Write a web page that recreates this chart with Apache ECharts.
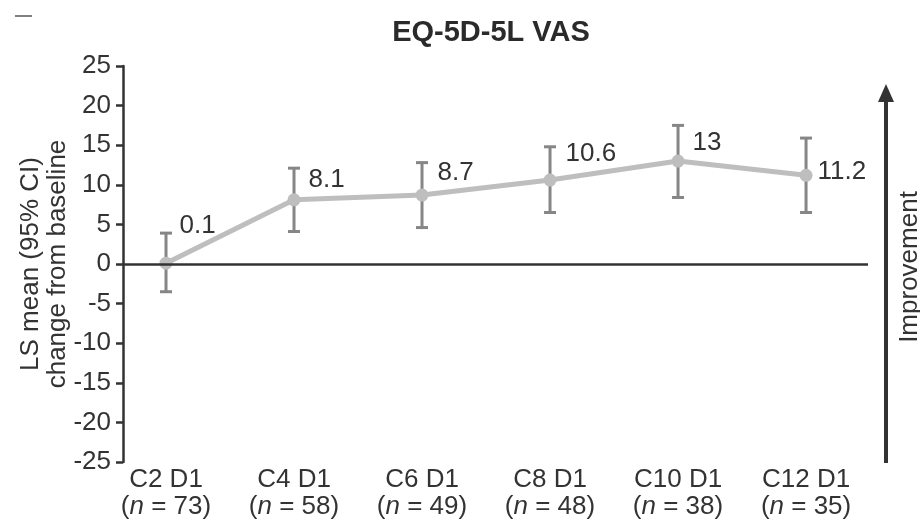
<!DOCTYPE html>
<html><head><meta charset="utf-8">
<script src="https://cdn.jsdelivr.net/npm/echarts@6/dist/echarts.min.js"></script>
<style>html,body{margin:0;padding:0;background:#fff}#c{width:920px;height:528px}</style>
</head><body><div id="c"></div>
<script>
const categories = ['C2 D1','C4 D1','C6 D1','C8 D1','C10 D1','C12 D1'];
const nValues = [73, 58, 49, 48, 38, 35];
const means = [0.1, 8.1, 8.7, 10.6, 13, 11.2];
const ciLower = [-3.5, 4.1, 4.6, 6.5, 8.4, 6.5];
const ciUpper = [3.9, 12.1, 12.8, 14.8, 17.5, 15.9];
const yTicks = [-25,-20,-15,-10,-5,0,5,10,15,20,25];
const labelOffsets = [[2,-37],[3,-20],[4,-22],[4,-26],[3,-18],[0,-3]];

const FONT = 'Liberation Sans, Arial, sans-serif';
const FS = 26;
const TXT = '#333';
const chart = echarts.init(document.getElementById('c'));
const idx = categories.map((_, i) => i);

chart.setOption({
  animation: false,
  textStyle: { fontFamily: FONT },
  title: {
    text: 'EQ-5D-5L VAS', left: 486, top: 13, textAlign: 'center',
    textStyle: { fontFamily: FONT, fontSize: 29, fontWeight: 'bold', color: '#2a2a2a' }
  },
  grid: { left: 123, right: 52, top: 66, bottom: 66, containLabel: false },
  xAxis: {
    type: 'value', min: -0.336, max: 5.484,
    splitLine: { show: false }, axisLine: { show: false },
    axisTick: { show: false },
    axisLabel: {
      customValues: idx, margin: 4, color: TXT, fontSize: FS, lineHeight: 27,
      formatter: v => {
        const i = Math.round(v);
        return '{a|' + categories[i] + '}\n{a|(}{i|n}{a| = ' + nValues[i] + ')}';
      },
      rich: {
        a: { fontSize: FS, color: TXT, fontFamily: FONT, lineHeight: 27 },
        i: { fontSize: FS, color: TXT, fontFamily: FONT, fontStyle: 'italic', lineHeight: 27 }
      }
    }
  },
  yAxis: {
    type: 'value', min: yTicks[0], max: yTicks[yTicks.length - 1], interval: 5,
    splitLine: { show: false },
    axisLine: { show: true, onZero: false, lineStyle: { color: '#333', width: 2.5 } },
    axisTick: { show: true, length: 7, lineStyle: { color: '#333', width: 2.5 } },
    axisLabel: { color: TXT, fontSize: FS, margin: 12 },
    name: 'LS mean (95% CI)\nchange from baseline',
    nameLocation: 'middle', nameGap: 52, nameRotate: 90,
    nameMoveOverlap: false,
    nameTextStyle: { fontSize: FS, color: TXT, lineHeight: 27, fontFamily: FONT }
  },
  series: [
    {
      type: 'custom',
      z: 2,
      data: idx.map(i => [i, ciLower[i], ciUpper[i]]),
      renderItem: (params, api) => {
        const x = api.value(0);
        const lo = api.coord([x, api.value(1)]);
        const hi = api.coord([x, api.value(2)]);
        const hw = 6;
        const st = { stroke: '#868686', lineWidth: 3 };
        return {
          type: 'group',
          children: [
            { type: 'line', shape: { x1: lo[0], y1: lo[1], x2: hi[0], y2: hi[1] }, style: st },
            { type: 'line', shape: { x1: lo[0]-hw, y1: lo[1], x2: lo[0]+hw, y2: lo[1] }, style: st },
            { type: 'line', shape: { x1: hi[0]-hw, y1: hi[1], x2: hi[0]+hw, y2: hi[1] }, style: st }
          ]
        };
      }
    },
    {
      type: 'line',
      z: 3,
      data: idx.map(i => ({
        value: [i, means[i]],
        label: { offset: labelOffsets[i] }
      })),
      symbol: 'circle', symbolSize: 13,
      lineStyle: { color: '#bebebe', width: 5 },
      itemStyle: { color: '#bebebe' },
      label: {
        show: true, position: 'right', distance: 5,
        fontSize: FS, color: TXT, fontFamily: FONT,
        formatter: p => String(p.value[1])
      },
      markLine: {
        silent: true, symbol: 'none', label: { show: false },
        lineStyle: { color: '#333', width: 2.5, type: 'solid' },
        data: [{ yAxis: 0 }]
      }
    }
  ],
  graphic: [
    { type: 'line', shape: { x1: 15, y1: 16, x2: 32, y2: 16 }, style: { stroke: '#555', lineWidth: 1.5 } },
    { type: 'line', shape: { x1: 886, y1: 98, x2: 886, y2: 463 }, style: { stroke: '#333', lineWidth: 4 } },
    { type: 'polygon', shape: { points: [[886, 84], [878, 102], [894, 102]] }, style: { fill: '#333' } },
    {
      type: 'text', x: 910, y: 267, rotation: Math.PI / 2,
      style: { text: 'Improvement', fontSize: FS, fill: TXT, fontFamily: FONT, align: 'center', verticalAlign: 'middle' }
    }
  ]
});
</script>
</body></html>
